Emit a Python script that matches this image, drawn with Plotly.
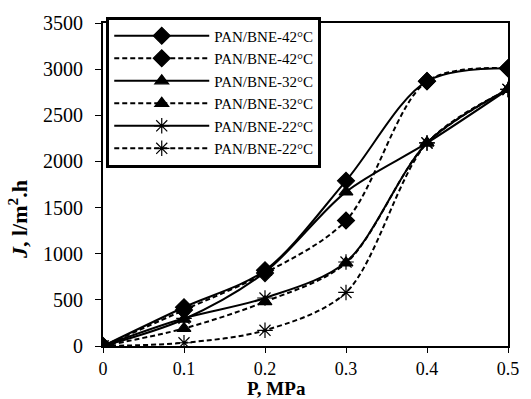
import plotly.graph_objects as go

pressure = [0, 0.1, 0.2, 0.3, 0.4, 0.5]
flux_42_solid = [0, 420, 820, 1790, 2870, 3010]
flux_42_dashed = [0, 390, 790, 1360, 2870, 3010]
flux_32_solid = [0, 290, 800, 1670, 2200, 2780]
flux_32_dashed = [0, 190, 480, 900, 2200, 2780]
flux_22_solid = [0, 300, 520, 910, 2200, 2780]
flux_22_dashed = [0, 35, 170, 580, 2200, 2780]
labels = ["PAN/BNE-42°C", "PAN/BNE-42°C", "PAN/BNE-32°C",
          "PAN/BNE-32°C", "PAN/BNE-22°C", "PAN/BNE-22°C"]
x_ticks = [0, 0.1, 0.2, 0.3, 0.4, 0.5]
x_tick_text = ["0", "0.1", "0.2", "0.3", "0.4", "0.5"]
y_ticks = [0, 500, 1000, 1500, 2000, 2500, 3000, 3500]

series = [flux_42_solid, flux_42_dashed, flux_32_solid,
          flux_32_dashed, flux_22_solid, flux_22_dashed]
dashes = ["solid", "5px,3px", "solid", "5px,3px", "solid", "5px,3px"]
symbols = ["diamond", "diamond", "triangle-up", "triangle-up",
           "asterisk-open", "asterisk-open"]
sizes = [13, 13, 12, 12, 13, 13]

SERIF = "Liberation Serif, Times New Roman, serif"

fig = go.Figure()
for ys, lab, d, sym, sz in zip(series, labels, dashes, symbols, sizes):
    fig.add_trace(go.Scatter(
        x=pressure, y=ys, name=lab, mode="lines+markers",
        line=dict(color="black", width=2, dash=d, shape="spline", smoothing=0.9),
        marker=dict(symbol=sym, size=sz, color="black",
                    line=dict(color="black", width=1.2)),
    ))

fig.update_layout(
    width=531, height=399,
    margin=dict(l=103, r=14, t=20, b=53),
    paper_bgcolor="white", plot_bgcolor="white",
    font=dict(family=SERIF, color="black", size=15),
    showlegend=True,
    legend=dict(
        x=0.008, y=1.02, xanchor="left", yanchor="top",
        bgcolor="white", bordercolor="black", borderwidth=3,
        font=dict(family=SERIF, size=15, color="black"),
        itemwidth=95, tracegroupgap=0,
    ),
    xaxis=dict(
        range=[0, 0.5], tickvals=x_ticks, ticktext=x_tick_text,
        showgrid=False, zeroline=False,
        showline=True, linecolor="black", linewidth=2, mirror=True,
        ticks="outside", ticklen=5, tickcolor="black", tickwidth=1,
        ticklabelstandoff=0,
        tickfont=dict(family=SERIF, size=18, color="black"),
    ),
    yaxis=dict(
        range=[0, 3500], tickvals=y_ticks,
        showgrid=False, zeroline=False,
        showline=True, linecolor="black", linewidth=2, mirror=True,
        ticks="outside", ticklen=6, tickcolor="black", tickwidth=1,
        ticklabelstandoff=8,
        tickfont=dict(family=SERIF, size=20, color="black"),
    ),
    annotations=[
        dict(text="<b>P, MPa</b>", xref="paper", yref="paper",
             x=0.4275, y=-0.131, xanchor="center", yanchor="middle",
             showarrow=False, font=dict(family=SERIF, size=19, color="black")),
        dict(text="<b><i>J</i>, l/m<sup>2</sup>.h</b>", xref="paper", yref="paper",
             x=-0.21, y=0.393, xanchor="center", yanchor="middle", textangle=-90,
             showarrow=False, font=dict(family=SERIF, size=22, color="black")),
    ],
)

fig.write_html("out.html", config={"displayModeBar": False},
               post_script="document.body.style.margin='0';")
